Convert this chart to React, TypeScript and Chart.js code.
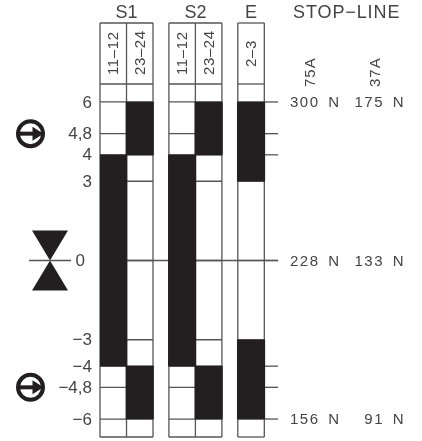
import React, { useEffect, useRef } from "react";
import { Chart, registerables } from "chart.js";

Chart.register(...registerables);

const tickValues = [6, 4.8, 4, 3, 0, -3, -4, -4.8, -6];
const rightTickValues = [6, 4.8, 4, 0, -4, -4.8, -6];
const contactLabels = ["11–12", "23–24", "11–12", "23–24", "2–3"];
const contactCenters = [0.5, 1.5, 3.1, 4.1, 5.7];
const s1Contact1112: [number, number][] = [[-4, 4]];
const s1Contact2324: [number, number][] = [[4, 6], [-6, -4]];
const s2Contact1112: [number, number][] = [[-4, 4]];
const s2Contact2324: [number, number][] = [[4, 6], [-6, -4]];
const eContact23: [number, number][] = [[3, 6], [-6, -3]];
const groupNames = ["S1", "S2", "E"];
const groupSpans = [[0, 2], [2.6, 4.6], [5.2, 6.2]];
const force75A = [[6, "300 N"], [0, "228 N"], [-6, "156 N"]] as [number, string][];
const force37A = [[6, "175 N"], [0, "133 N"], [-6, "91 N"]] as [number, string][];

const INK = "#231f20";
const LINE = "#555555";
const TEXT = "#444444";
const FONT = '"Liberation Sans", sans-serif';

const tickText = (n: number) => (n < 0 ? "−" : "") + String(Math.abs(n)).replace(".", ",");

function arrowBadge(ctx: CanvasRenderingContext2D, cx: number, cy: number) {
  ctx.save();
  ctx.strokeStyle = INK;
  ctx.fillStyle = INK;
  ctx.lineWidth = 4;
  ctx.beginPath();
  ctx.arc(cx, cy, 12.5, 0, Math.PI * 2);
  ctx.stroke();
  ctx.fillRect(cx - 13, cy - 2, 17, 4);
  ctx.beginPath();
  ctx.moveTo(cx + 13, cy);
  ctx.lineTo(cx + 2, cy - 7);
  ctx.lineTo(cx + 2, cy + 7);
  ctx.closePath();
  ctx.fill();
  ctx.restore();
}

const schematic = {
  id: "schematic",
  beforeDatasetsDraw(chart: any) {
    const { ctx, scales, chartArea } = chart;
    const x = scales.x;
    const y = scales.y;
    const top = 23;
    const hdr = chartArea.top;
    const bottom = chartArea.bottom;
    ctx.save();
    ctx.strokeStyle = LINE;
    ctx.lineWidth = 1.3;
    const hl = (a: number, b: number, py: number) => {
      ctx.beginPath();
      ctx.moveTo(a, py);
      ctx.lineTo(b, py);
      ctx.stroke();
    };
    const vl = (px: number) => {
      ctx.beginPath();
      ctx.moveTo(px, top);
      ctx.lineTo(px, bottom);
      ctx.stroke();
    };
    groupSpans.forEach(([a, b]) => {
      const pa = x.getPixelForValue(a);
      const pb = x.getPixelForValue(b);
      [top, hdr, bottom].forEach((py) => hl(pa, pb, py));
      tickValues.forEach((t) => hl(pa, pb, y.getPixelForValue(t)));
      vl(pa);
      vl(pb);
      if (b - a > 1) vl(x.getPixelForValue(a + 1));
    });
    const rightEnd = x.getPixelForValue(6.72);
    rightTickValues.forEach((t) => hl(x.getPixelForValue(6.2), rightEnd, y.getPixelForValue(t)));
    hl(x.getPixelForValue(0), rightEnd, y.getPixelForValue(0));
    ctx.restore();
  },
  afterDatasetsDraw(chart: any) {
    const { ctx, scales } = chart;
    const x = scales.x;
    const y = scales.y;
    ctx.save();
    ctx.fillStyle = TEXT;
    ctx.textBaseline = "middle";
    ctx.textAlign = "left";

    // group titles
    ctx.font = `18px ${FONT}`;
    groupNames.forEach((n, i) => {
      const [a, b] = groupSpans[i];
      ctx.fillText(n, x.getPixelForValue((a + b) / 2) - ctx.measureText(n).width / 2, 13);
    });
    ctx.letterSpacing = "0.9px";
    ctx.fillText("STOP−LINE", 293, 13);

    // scale labels
    ctx.font = `17px ${FONT}`;
    ctx.letterSpacing = "0px";
    y.ticks.forEach((t: any) => {
      const s = tickText(t.value);
      const right = t.value === 0 ? 85 : 92;
      ctx.fillText(s, right - ctx.measureText(s).width, y.getPixelForValue(t.value) + 1);
    });

    // rotated contact labels
    const rotated = (t: string, px: number, py: number) => {
      ctx.save();
      ctx.translate(px, py);
      ctx.rotate(-Math.PI / 2);
      ctx.fillText(t, 0, 0);
      ctx.restore();
    };
    ctx.font = `15px ${FONT}`;
    ctx.letterSpacing = "0.6px";
    contactLabels.forEach((l, i) => {
      const isE = i === contactLabels.length - 1;
      rotated(l, x.getPixelForValue(contactCenters[i]) + 1, isE ? 67 : 75);
    });
    ctx.letterSpacing = "1px";
    rotated("75A", 311, 87);
    rotated("37A", 376, 87);

    // forces
    ctx.letterSpacing = "1.5px";
    (ctx as any).wordSpacing = "3px";
    force75A.forEach(([v, t]) => ctx.fillText(t, 290, y.getPixelForValue(v) + 1));
    force37A.forEach(([v, t]) => ctx.fillText(t, 405 - ctx.measureText(t).width, y.getPixelForValue(v) + 1));
    (ctx as any).wordSpacing = "0px";
    ctx.letterSpacing = "0px";

    // symbols
    arrowBadge(ctx, 30.5, y.getPixelForValue(4.8));
    arrowBadge(ctx, 30.5, y.getPixelForValue(-4.8));
    const y0 = y.getPixelForValue(0);
    ctx.fillStyle = INK;
    [-30, 30].forEach((d) => {
      ctx.beginPath();
      ctx.moveTo(50, y0);
      ctx.lineTo(32, y0 + d);
      ctx.lineTo(68, y0 + d);
      ctx.closePath();
      ctx.fill();
    });
    ctx.strokeStyle = LINE;
    ctx.lineWidth = 1.3;
    ctx.beginPath();
    ctx.moveTo(29, y0);
    ctx.lineTo(71, y0);
    ctx.stroke();
    ctx.restore();
  },
};

const contactSeries = [s1Contact1112, s1Contact2324, s2Contact1112, s2Contact2324, eContact23];

export default function App() {
  const ref = useRef<HTMLCanvasElement>(null);
  useEffect(() => {
    const chart = new Chart(ref.current!, {
      type: "bar",
      data: {
        datasets: contactSeries.map((series, i) => ({
          label: contactLabels[i],
          data: series.map((r) => ({ x: contactCenters[i], y: r })),
          backgroundColor: INK,
          borderWidth: 0,
          barThickness: 27.5,
          grouped: false,
        })),
      } as any,
      options: {
        responsive: false,
        animation: false,
        devicePixelRatio: 1,
        layout: { autoPadding: false, padding: { top: 84, bottom: 4, left: 0, right: 0 } },
        plugins: { legend: { display: false }, tooltip: { enabled: false }, title: { display: false } },
        scales: {
          x: {
            type: "linear",
            offset: false,
            display: false,
            min: 0,
            max: 322 / 26.5,
          },
          y: {
            type: "linear",
            min: -6.68,
            max: 6.68,
            position: "left",
            afterFit(s: any) {
              s.width = 100;
              s.paddingTop = 0;
              s.paddingBottom = 0;
            },
            afterBuildTicks(s: any) {
              s.ticks = tickValues.map((value) => ({ value }));
            },
            border: { display: false },
            grid: { display: false },
            ticks: { display: false, autoSkip: false, maxRotation: 0, minRotation: 0 },
          },
        },
      } as any,
      plugins: [schematic],
    });
    return () => chart.destroy();
  }, []);
  return (
    <canvas
      ref={ref}
      width={422}
      height={441}
      style={{ position: "absolute", left: 0, top: 0, width: 422, height: 441, display: "block" }}
    />
  );
}
